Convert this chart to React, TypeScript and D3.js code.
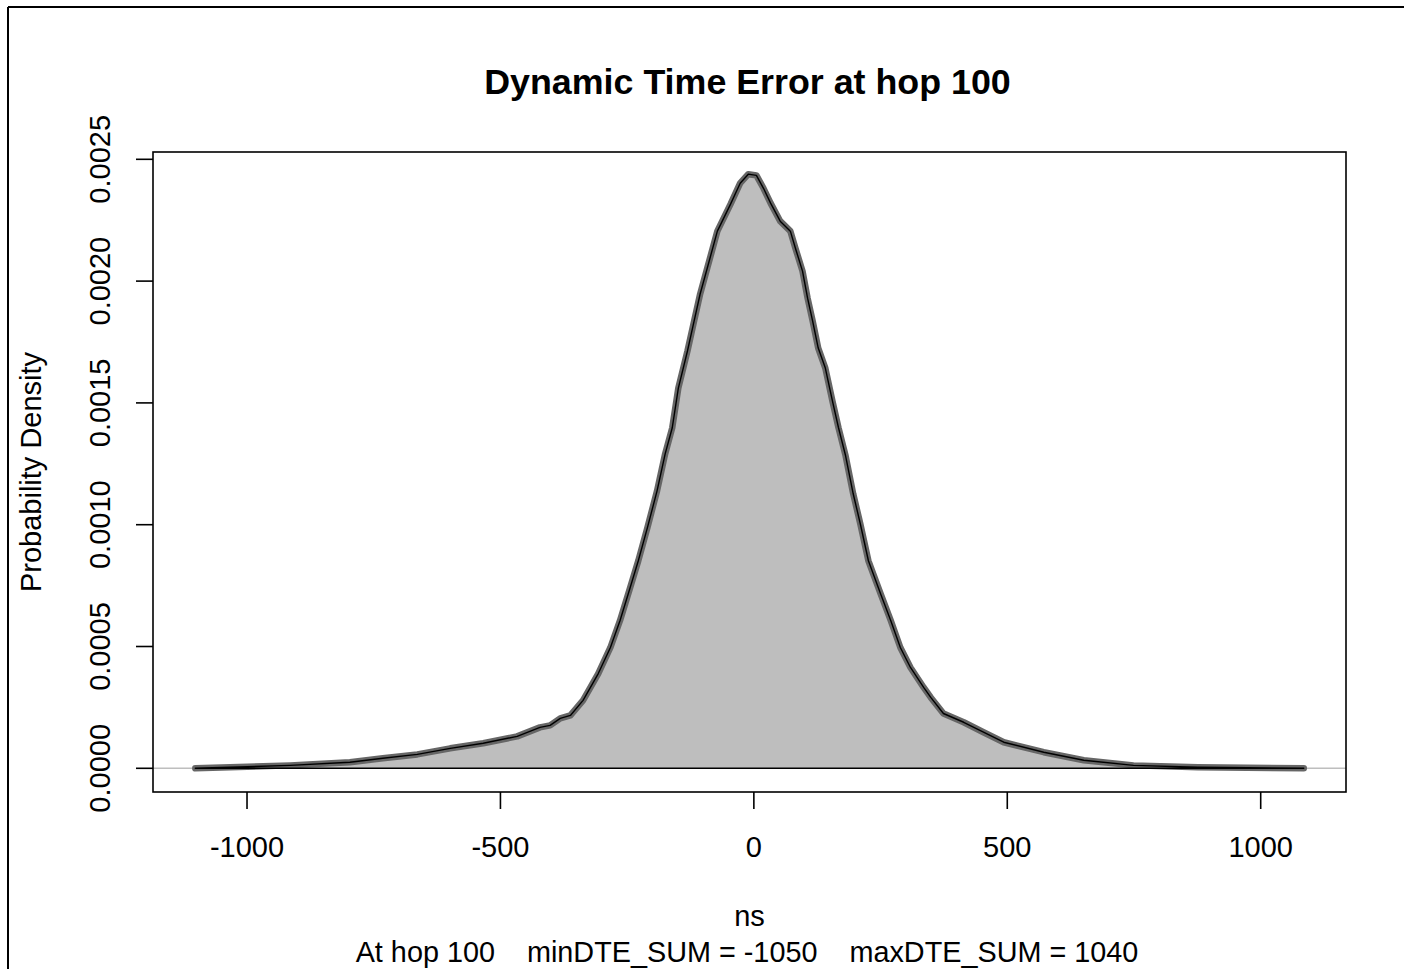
import React from 'react';
import * as d3 from 'd3';

// density estimate (ns, probability density)
const dteNs = [-1102, -915, -797, -732, -664, -599, -534, -467, -422, -402, -382, -362, -337, -307, -283, -264, -244, -228, -210, -191, -175, -161, -149, -131, -121, -106, -92, -72, -46, -27, -11, 5, 19, 33, 52, 72, 82, 96, 106, 116, 127, 141, 155, 167, 181, 196, 210, 226, 250, 270, 289, 309, 335, 349, 374, 414, 453, 493, 572, 651, 749, 876, 1085];
const density = [0, 0.000012, 0.000025, 0.000041, 0.000057, 0.000082, 0.000103, 0.000131, 0.000168, 0.000176, 0.000205, 0.000217, 0.000279, 0.000389, 0.000496, 0.000607, 0.000742, 0.000852, 0.000988, 0.001139, 0.001291, 0.001398, 0.001561, 0.001713, 0.001807, 0.001947, 0.002053, 0.002205, 0.002316, 0.002402, 0.002439, 0.002434, 0.002381, 0.00232, 0.002246, 0.002205, 0.002135, 0.002041, 0.00193, 0.001836, 0.001725, 0.001643, 0.001508, 0.001398, 0.001283, 0.001127, 0.001004, 0.000852, 0.000717, 0.000607, 0.000496, 0.000414, 0.000332, 0.000291, 0.000225, 0.000189, 0.000148, 0.000107, 0.000066, 0.000033, 0.000012, 0.000004, 0];

const xTicks = [-1000, -500, 0, 500, 1000];
const yTicks = [0, 0.0005, 0.001, 0.0015, 0.002, 0.0025];

const title = 'Dynamic Time Error at hop 100';
const xLabel = 'ns';
const yLabel = 'Probability Density';
const subTitle = 'At hop 100    minDTE_SUM = -1050    maxDTE_SUM = 1040';

const W = 1404;
const H = 969;
const box = { left: 153, top: 152, right: 1346, bottom: 792 };
const font = '"Liberation Sans", Arial, sans-serif';

const App = () => {
  const x = d3.scaleLinear().domain([-1185.5, 1168.3]).range([box.left, box.right]);
  const y = d3.scaleLinear().domain([-0.0000973, 0.00253]).range([box.bottom, box.top]);

  const pts: [number, number][] = dteNs.map((v, i) => [v, density[i]]);
  const line = d3.line<[number, number]>().x(d => x(d[0])).y(d => y(d[1]));
  const area = d3.area<[number, number]>().x(d => x(d[0])).y0(y(0)).y1(d => y(d[1]));

  const cx = (box.left + box.right) / 2;

  return (
    <svg width={W} height={H} style={{ position: 'absolute', left: 0, top: 0, background: '#fff' }}
      fontFamily={font}>
      {/* outer frame */}
      <line x1={8} y1={7} x2={W} y2={7} stroke="#000" strokeWidth={2} />
      <line x1={8} y1={7} x2={8} y2={H} stroke="#000" strokeWidth={2} />

      {/* h = 0 reference line */}
      <line x1={box.left} x2={box.right} y1={y(0)} y2={y(0)} stroke="#bebebe" strokeWidth={1.5} />

      <path d={area(pts) || ''} fill="#bebebe" stroke="none" />
      <path d={line(pts) || ''} fill="none" stroke="#666" strokeWidth={6.5}
        strokeLinecap="round" strokeLinejoin="round" />
      <path d={(line(pts) || '') + 'Z'} fill="none" stroke="#000" strokeWidth={1.4}
        strokeLinejoin="round" />

      {/* plot box */}
      <rect x={box.left} y={box.top} width={box.right - box.left} height={box.bottom - box.top}
        fill="none" stroke="#000" strokeWidth={1.6} />

      {/* x axis */}
      {xTicks.map(t => (
        <g key={t}>
          <line x1={x(t)} x2={x(t)} y1={box.bottom} y2={box.bottom + 17} stroke="#000" strokeWidth={1.6} />
          <text x={x(t)} y={857} textAnchor="middle" fontSize={29}>{t}</text>
        </g>
      ))}

      {/* y axis */}
      {yTicks.map(t => (
        <g key={t}>
          <line x1={box.left - 17} x2={box.left} y1={y(t)} y2={y(t)} stroke="#000" strokeWidth={1.6} />
          <text transform={`translate(110,${y(t)}) rotate(-90)`} textAnchor="middle" fontSize={29}>
            {t.toFixed(4)}
          </text>
        </g>
      ))}

      <text x={747.5} y={94} textAnchor="middle" fontSize={35.8} fontWeight="bold">{title}</text>
      <text x={cx} y={926} textAnchor="middle" fontSize={29}>{xLabel}</text>
      <text x={747} y={962} textAnchor="middle" fontSize={28.8} style={{ whiteSpace: 'pre' }}>{subTitle}</text>
      <text transform={`translate(41,${(box.top + box.bottom) / 2}) rotate(-90)`} textAnchor="middle" fontSize={29}>
        {yLabel}
      </text>
    </svg>
  );
};

export default App;
